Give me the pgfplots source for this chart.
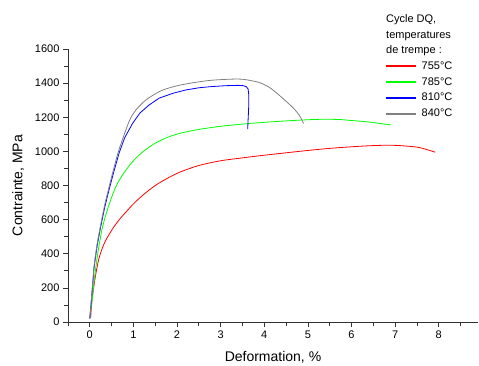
\documentclass[border=0pt]{standalone}
\usepackage{pgfplots}
\pgfplotsset{compat=1.18}
\usepackage{fontspec}
\setmainfont{Liberation Sans}
\begin{document}
\begin{tikzpicture}
\useasboundingbox (-68pt,-43pt) rectangle (411pt,322pt);
\begin{axis}[
  at={(0pt,0pt)}, anchor=south west,
  scale only axis, width=410pt, height=273pt,
  xmin=-0.5, xmax=8.9, ymin=0, ymax=1600,
  clip=false,
  axis x line*=bottom, axis y line*=left,
  axis line style={black!80, line width=0.8pt, -},
  xtick={0,1,...,8}, ytick={0,200,...,1600},
  minor x tick num=1, minor y tick num=1,
  extra x ticks={-0.5,8.5}, extra x tick labels={},
  extra x tick style={major tick length=4pt},
  tick align=outside, major tick length=5pt, minor tick length=4pt,
  tick style={black!80, line width=0.7pt},
  /pgf/number format/assume math mode=true,
  /pgf/number format/1000 sep={},
  ticklabel style={font=\fontsize{11}{13}\selectfont},
  xlabel={Deformation, \%}, ylabel={Contrainte, MPa},
  label style={font=\fontsize{14}{16}\selectfont},
  xlabel style={yshift=3pt},
  ylabel style={yshift=4pt},
  legend style={draw=none, fill=none, at={(rel axis cs:0.772,0.962)}, anchor=north west,
    font=\fontsize{11}{13}\selectfont, row sep=2.6pt, inner sep=0pt,
    /tikz/every odd column/.append style={column sep=3pt}},
  legend cell align=left,
  legend image code/.code={\draw[#1] (0pt,0pt) -- (30pt,0pt);},
]
\addplot[red, line width=0.8pt, smooth, tension=0.5, forget plot] coordinates {
(0.02,25)(0.04,100)(0.06,150)(0.1,220)(0.14,285)(0.21,373)(0.29,435)(0.37,481)(0.52,545)(0.67,598)(0.83,645)(1.0,692)(1.21,742)(1.5,800)(1.82,848)(2.1,882)(2.51,918)(3.0,945)(3.5,962)(3.88,974)(4.3,986)(4.8,1000)(5.3,1013)(5.72,1022)(6.33,1032)(6.8,1036)(7.1,1034)(7.5,1025)(7.71,1012)(7.92,995)};
\addplot[green, line width=0.8pt, smooth, tension=0.5, forget plot] coordinates {
(0,25)(0.05,120)(0.1,240)(0.14,324)(0.2,430)(0.29,555)(0.4,655)(0.52,745)(0.65,820)(0.83,891)(1.0,945)(1.21,996)(1.5,1048)(1.82,1086)(2.1,1108)(2.51,1129)(3.0,1147)(3.5,1160)(3.88,1168)(4.4,1177)(4.88,1184)(5.3,1188)(5.72,1187)(5.95,1182)(6.4,1172)(6.9,1155)};
\addplot[blue, line width=0.8pt, forget plot] coordinates {
(0,20)(0.05,170)(0.1,324)(0.17,450)(0.25,559)(0.34,670)(0.44,774)(0.55,880)(0.67,989)(0.8,1080)(0.98,1164)(1.15,1225)(1.36,1272)(1.59,1312)(1.9,1340)(2.2,1360)(2.51,1373)(2.8,1380)(3.12,1385)(3.4,1387)(3.52,1385)(3.59,1379)(3.63,1365)(3.645,1330)(3.645,1280)(3.64,1240)(3.63,1190)(3.62,1131)};
\addplot[gray, line width=0.8pt, smooth, tension=0.5, forget plot] coordinates {
(0,20)(0.05,175)(0.1,330)(0.17,460)(0.25,570)(0.34,685)(0.44,790)(0.55,900)(0.67,1010)(0.9,1175)(1.05,1240)(1.28,1300)(1.59,1350)(1.82,1372)(2.1,1390)(2.51,1408)(2.8,1417)(3.12,1422)(3.4,1424)(3.58,1420)(3.88,1404)(4.1,1378)(4.27,1345)(4.45,1305)(4.65,1258)(4.8,1213)(4.90,1164)};
\addlegendimage{color=red, line width=2pt}
\addlegendentry{755°C}
\addlegendimage{color=green, line width=2pt}
\addlegendentry{785°C}
\addlegendimage{color=blue, line width=2pt}
\addlegendentry{810°C}
\addlegendimage{color=gray, line width=2pt}
\addlegendentry{840°C}
\node[anchor=north west, align=left, inner sep=0pt, font=\fontsize{11}{15.6}\selectfont] at (rel axis cs:0.7756,1.127) {Cycle DQ,\\temperatures\\de trempe :};
\end{axis}
\end{tikzpicture}
\end{document}
